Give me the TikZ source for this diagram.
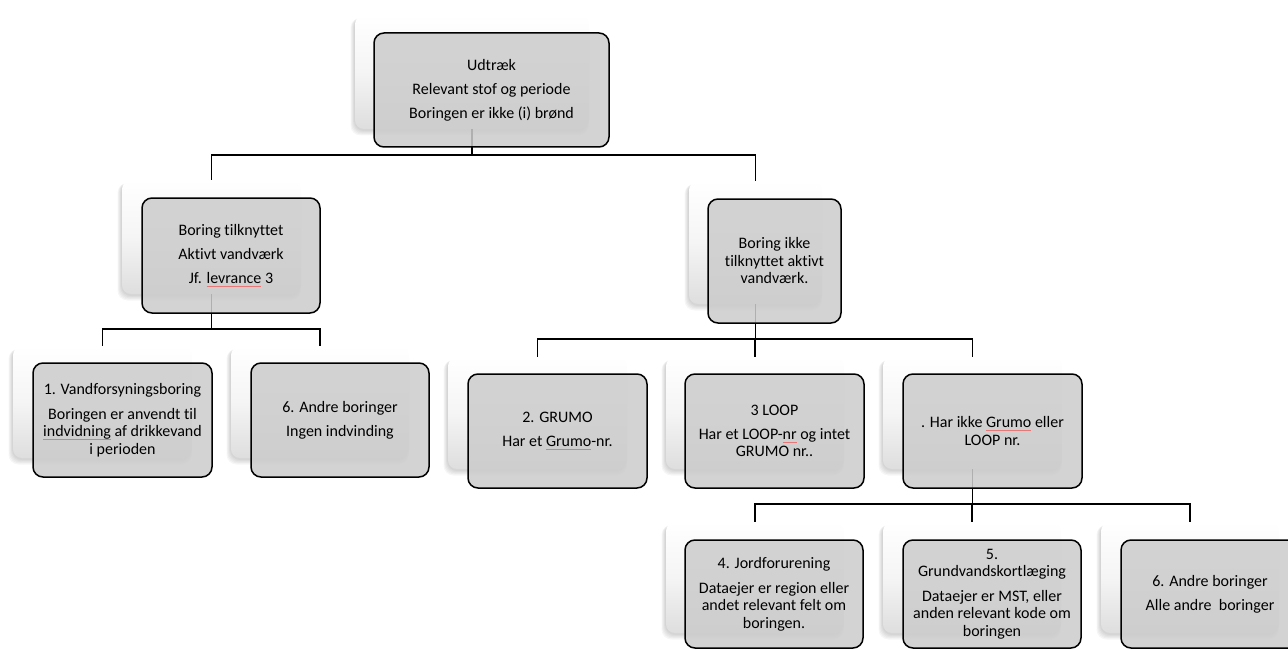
\documentclass[tikz,border=0pt]{standalone}
\usepackage{fontspec}
\setmainfont{Carlito}[Ligatures={NoCommon}]
\definecolor{frontgray}{RGB}{204,204,204}
\definecolor{spellred}{RGB}{232,120,120}
\newsavebox\sperrbox
\newcommand\sperr[1]{\leavevmode\sbox\sperrbox{#1}\rlap{\textcolor{spellred}{\rule[-2.8pt]{\wd\sperrbox}{0.45pt}}}\usebox\sperrbox}
\tikzset{
  backbox/.style={rounded corners=9pt, inner sep=0pt, top color=white, bottom color=black!13, middle color=black!4},
  frontbox/.style={rounded corners=10pt, inner sep=0pt, draw=black, line width=1.5pt,
    fill=frontgray, fill opacity=0.86, text opacity=1, align=center,
    font=\fontsize{16}{17.5}\selectfont},
  conn/.style={draw=black, line width=1.6pt},
  shadowlayer/.style={fill=black, opacity=0.035, rounded corners=10pt}
}
\newcommand\backbox[5]{%
  \foreach \s in {1,...,5}{%
    \fill[shadowlayer] ({#2-\s*0.9},{#3+1+\s*0.4}) rectangle ({#4+\s*0.4-2},{#5+\s*1.1+1});}
  \node[backbox, minimum width={#4-#2}, minimum height={#5-#3}] (#1) at ({(#2+#4)/2},{(#3+#5)/2}) {};
}
\newcommand\frontbox[6]{%
  \node[frontbox, minimum width={#4-#2}, minimum height={#5-#3}] (#1) at ({(#2+#4)/2},{(#3+#5)/2}) {#6};
}
\begin{document}
\begin{tikzpicture}[x=1pt, y=-1pt]
\useasboundingbox (0,0) rectangle (1288,650);
% back boxes
\backbox{b0}{355}{15}{589}{129}
\backbox{b1}{122}{180}{301}{294}
\backbox{b2}{689}{181}{822}{304}
\backbox{b3}{13}{346}{192}{458}
\backbox{b4}{231}{346}{409}{458}
\backbox{b5}{448}{357}{627}{469}
\backbox{b6}{666}{357}{844}{469}
\backbox{b7}{883}{357}{1062}{469}
\backbox{b8}{666}{522}{844}{633}
\backbox{b9}{883}{522}{1061}{633}
\backbox{b10}{1101}{522}{1279}{633}
% connectors
\draw[conn] (b0.south) -- ++(0,26) -| (b1.north);
\draw[conn] (b0.south) -- ++(0,26) -| (b2.north);
\draw[conn] (b1.south) -- ++(0,35) -| (b3.north);
\draw[conn] (b1.south) -- ++(0,35) -| (b4.north);
\draw[conn] (b2.south) -- ++(0,35) -| (b5.north);
\draw[conn] (b2.south) -- ++(0,35) -| (b6.north);
\draw[conn] (b2.south) -- ++(0,35) -| (b7.north);
\draw[conn] (b7.south) -- ++(0,35) -| (b8.north);
\draw[conn] (b7.south) -- ++(0,35) -| (b9.north);
\draw[conn] (b7.south) -- ++(0,35) -| (b10.north);
% front boxes
\frontbox{f0}{374}{33}{609}{147}{Udtræk\\[6.5pt]Relevant stof og periode\\[6.5pt]Boringen er ikke (i) brønd}
\frontbox{f1}{142}{198}{320}{313}{Boring tilknyttet\\[6.5pt]Aktivt vandværk\\[6.5pt]Jf. \sperr{levrance} 3}
\frontbox{f2}{708}{199}{841}{323}{Boring ikke\\tilknyttet aktivt\\vandværk.}
\frontbox{f3}{33}{363}{212}{477}{1. Vandforsyningsboring\\[7.5pt]Boringen er anvendt til\\\sperr{indvidning} af drikkevand\\i perioden}
\frontbox{f4}{251}{363}{429}{477}{6. Andre boringer\\[6.5pt]Ingen indvinding}
\frontbox{f5}{468}{374}{647}{488}{2. GRUMO\\[6.5pt]Har et \sperr{Grumo}-nr.}
\frontbox{f6}{685}{374}{864}{488}{3 LOOP\\[6.5pt]Har et LOOP-\sperr{nr} og intet\\GRUMO nr..}
\frontbox{f7}{903}{374}{1082}{488}{. Har ikke \sperr{Grumo} eller\\LOOP nr.}
\frontbox{f8}{685}{540}{863}{648}{4. Jordforurening\\[7.5pt]Dataejer er region eller\\andet relevant felt om\\boringen.}
\frontbox{f9}{903}{540}{1081}{648}{5.\\Grundvandskortlæging\\[7pt]Dataejer er MST, eller\\anden relevant kode om\\boringen}
\frontbox{f10}{1121}{540}{1299}{648}{6. Andre boringer\\[6.5pt]Alle andre\ \ boringer}
\end{tikzpicture}
\end{document}
